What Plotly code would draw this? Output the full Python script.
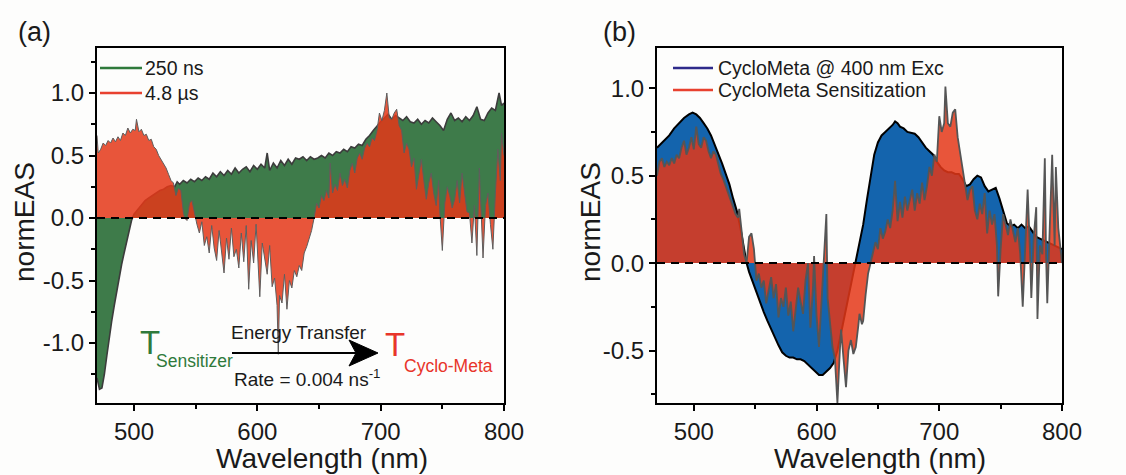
import plotly.graph_objects as go

# ---------------- data: panel (a) ----------------
wl_a_250ns = [470, 472, 474, 476, 478, 480, 482, 484, 486, 488, 490, 492, 494, 496, 498, 500, 503, 506, 509, 512,
              515, 518, 521, 524, 527, 530, 533, 535, 537, 540, 543, 546, 549, 552, 555, 558, 561, 564, 567, 570,
              573, 576, 579, 582, 585, 588, 591, 594, 597, 600, 603, 606, 608, 610, 613, 616, 619, 622, 625, 628,
              631, 634, 637, 640, 643, 646, 649, 652, 655, 658, 661, 664, 667, 670, 673, 676, 679, 682, 685, 688,
              691, 694, 697, 700, 703, 706, 709, 712, 715, 718, 721, 724, 727, 730, 733, 736, 739, 742, 745, 748,
              751, 754, 757, 760, 763, 766, 769, 772, 775, 778, 781, 784, 787, 790, 793, 796, 798, 800]
eas_a_250ns = [-1.28, -1.37, -1.36, -1.25, -1.10, -0.95, -0.82, -0.70, -0.58, -0.47, -0.37, -0.28, -0.19, -0.10, -0.02,
               0.03, 0.07, 0.11, 0.14, 0.16, 0.18, 0.20, 0.22, 0.23, 0.25, 0.26, 0.25, 0.29, 0.27, 0.30, 0.28, 0.31,
               0.29, 0.32, 0.30, 0.33, 0.31, 0.36, 0.33, 0.37, 0.34, 0.38, 0.35, 0.40, 0.36, 0.39, 0.41, 0.37, 0.42,
               0.39, 0.43, 0.40, 0.52, 0.38, 0.44, 0.40, 0.46, 0.42, 0.47, 0.43, 0.48, 0.47, 0.49, 0.46, 0.49, 0.47,
               0.48, 0.50, 0.48, 0.52, 0.50, 0.53, 0.52, 0.55, 0.53, 0.57, 0.56, 0.59, 0.58, 0.63, 0.66, 0.70, 0.74,
               0.77, 0.80, 0.83, 0.79, 0.82, 0.80, 0.78, 0.81, 0.77, 0.76, 0.79, 0.75, 0.78, 0.76, 0.80, 0.77, 0.74,
               0.70, 0.79, 0.84, 0.78, 0.80, 0.77, 0.81, 0.78, 0.82, 0.89, 0.79, 0.78, 0.84, 0.88, 0.86, 1.00, 0.90,
               0.92]

wl_a_48us = [470, 471, 473, 475, 477, 479, 481, 483, 485, 487, 489, 491, 493, 495, 497, 499, 501, 502, 504, 506,
             508, 510, 512, 514, 516, 518, 520, 522, 524, 526, 528, 530, 532, 534, 536, 538, 540, 541, 543, 545,
             547, 549, 551, 553, 555, 557, 559, 561, 563, 565, 567, 569, 571, 573, 575, 577, 579, 581, 583, 585,
             587, 589, 591, 593, 595, 597, 599, 601, 602, 604, 606, 608, 610, 612, 614, 616, 617, 618, 620, 622,
             624, 626, 628, 630, 632, 634, 636, 638, 640, 642, 644, 646, 648, 650, 652, 654, 656, 658, 659, 661,
             663, 665, 667, 669, 671, 673, 675, 677, 679, 681, 683, 685, 687, 689, 691, 693, 695, 697, 699, 701,
             703, 705, 707, 709, 711, 713, 715, 717, 719, 721, 723, 725, 727, 729, 731, 733, 735, 737, 739, 741,
             743, 745, 747, 748, 750, 752, 754, 756, 758, 760, 762, 764, 766, 768, 770, 772, 774, 776, 778, 780,
             782, 783, 785, 787, 789, 791, 793, 795, 797, 798, 800]
eas_a_48us = [0.66, 0.52, 0.55, 0.60, 0.58, 0.62, 0.60, 0.64, 0.61, 0.65, 0.62, 0.68, 0.66, 0.72, 0.68, 0.71, 0.70,
              0.79, 0.69, 0.71, 0.66, 0.67, 0.62, 0.63, 0.57, 0.55, 0.50, 0.47, 0.43, 0.40, 0.35, 0.30, 0.28, 0.18,
              0.24, 0.22, 0.05, 0.00, -0.02, 0.12, 0.14, 0.04, -0.05, -0.12, -0.03, -0.22, -0.15, -0.28, -0.06,
              -0.24, -0.34, -0.10, -0.30, -0.44, -0.16, -0.33, -0.08, -0.31, -0.25, -0.40, -0.12, -0.35, -0.06,
              -0.57, -0.18, -0.36, -0.05, -0.52, -0.63, -0.20, -0.31, -0.45, -0.22, -0.55, -0.48, -0.70, -1.09,
              -0.62, -0.68, -0.45, -0.73, -0.50, -0.56, -0.42, -0.47, -0.38, -0.42, -0.28, -0.23, -0.16, -0.10,
              0.00, 0.12, 0.08, 0.18, 0.14, 0.22, 0.16, 0.44, 0.20, 0.27, 0.22, 0.36, 0.26, 0.31, 0.24, 0.38, 0.44,
              0.36, 0.48, 0.52, 0.47, 0.56, 0.60, 0.57, 0.64, 0.62, 0.70, 0.84, 0.78, 0.86, 1.00, 0.80, 0.79, 0.84,
              0.87, 0.74, 0.70, 0.52, 0.60, 0.55, 0.41, 0.48, 0.23, 0.36, 0.47, 0.30, 0.15, 0.28, 0.36, 0.20, 0.10,
              0.30, 0.04, -0.26, 0.12, 0.25, 0.18, 0.08, 0.15, 0.30, 0.12, 0.36, 0.20, 0.05, 0.04, -0.20, 0.10,
              -0.30, 0.40, -0.05, -0.32, 0.10, 0.20, -0.05, -0.25, 0.20, 0.55, 0.30, 0.68, 0.50]

# ---------------- data: panel (b) ----------------
wl_b_exc = [470, 473, 476, 480, 484, 488, 492, 496, 499, 502, 505, 508, 511, 514, 517, 520, 523, 526, 529, 532,
            535, 538, 541, 543, 545, 548, 551, 554, 557, 560, 563, 566, 569, 572, 575, 578, 581, 584, 587, 590,
            593, 596, 599, 602, 605, 608, 611, 614, 617, 620, 623, 626, 629, 632, 635, 638, 641, 644, 647, 650,
            653, 656, 659, 662, 664, 666, 668, 671, 674, 677, 680, 683, 686, 689, 692, 695, 698, 701, 704, 707,
            710, 713, 716, 719, 722, 725, 728, 731, 734, 737, 740, 743, 746, 749, 752, 755, 758, 761, 764, 767,
            770, 773, 776, 779, 782, 785, 788, 791, 794, 797, 800]
eas_b_exc = [0.66, 0.68, 0.70, 0.73, 0.77, 0.80, 0.83, 0.85, 0.86, 0.85, 0.83, 0.80, 0.77, 0.73, 0.68, 0.63, 0.57,
             0.51, 0.45, 0.37, 0.30, 0.20, 0.07, 0.00, -0.05, -0.11, -0.17, -0.22, -0.28, -0.33, -0.38, -0.43,
             -0.47, -0.51, -0.53, -0.54, -0.54, -0.55, -0.55, -0.56, -0.58, -0.60, -0.62, -0.64, -0.64, -0.62,
             -0.60, -0.57, -0.50, -0.40, -0.30, -0.20, -0.10, 0.00, 0.10, 0.22, 0.36, 0.50, 0.62, 0.69, 0.73,
             0.75, 0.77, 0.79, 0.81, 0.80, 0.78, 0.77, 0.75, 0.745, 0.74, 0.72, 0.69, 0.66, 0.64, 0.62, 0.58,
             0.55, 0.53, 0.52, 0.52, 0.51, 0.51, 0.48, 0.44, 0.45, 0.48, 0.50, 0.49, 0.44, 0.41, 0.42, 0.43,
             0.37, 0.30, 0.23, 0.21, 0.22, 0.20, 0.22, 0.20, 0.21, 0.18, 0.15, 0.14, 0.13, 0.12, 0.11, 0.10,
             0.09, 0.08]

wl_b_sens = [470, 472, 474, 476, 478, 480, 482, 484, 486, 488, 490, 492, 494, 496, 498, 500, 502, 504, 506, 508,
             510, 512, 514, 516, 518, 520, 522, 524, 526, 528, 530, 532, 534, 536, 537, 539, 541, 543, 545, 547,
             549, 551, 553, 555, 557, 559, 561, 563, 565, 567, 569, 571, 573, 575, 577, 579, 581, 583, 585, 587,
             589, 591, 593, 595, 597, 598, 600, 602, 604, 606, 608, 609, 611, 613, 615, 617, 619, 620, 622, 624,
             626, 628, 630, 632, 634, 635, 637, 638, 640, 642, 644, 646, 648, 650, 652, 654, 656, 658, 660, 662,
             664, 666, 668, 670, 672, 674, 676, 678, 680, 682, 684, 686, 688, 690, 692, 694, 696, 698, 700, 702,
             704, 705, 707, 709, 711, 713, 715, 717, 719, 721, 723, 725, 727, 729, 731, 733, 735, 737, 739, 741,
             743, 745, 747, 748, 750, 752, 754, 756, 758, 760, 762, 764, 766, 768, 770, 772, 774, 775, 777, 779,
             780, 782, 784, 786, 787, 788, 790, 792, 794, 795, 797, 800]
eas_b_sens = [0.50, 0.58, 0.60, 0.55, 0.58, 0.56, 0.60, 0.57, 0.62, 0.60, 0.66, 0.70, 0.62, 0.66, 0.72, 0.65, 0.78,
              0.68, 0.66, 0.72, 0.70, 0.64, 0.60, 0.64, 0.62, 0.56, 0.51, 0.48, 0.44, 0.40, 0.36, 0.32, 0.28, 0.26,
              0.31, 0.18, 0.05, 0.00, 0.15, 0.17, 0.08, -0.10, -0.06, -0.14, -0.10, -0.23, -0.15, -0.08, -0.20,
              -0.12, -0.31, -0.20, -0.25, -0.14, -0.30, -0.22, -0.39, -0.25, -0.14, -0.22, -0.29, -0.10, 0.00,
              -0.37, -0.15, 0.04, -0.30, -0.48, -0.20, 0.07, 0.28, -0.20, -0.35, -0.48, -0.55, -0.80, -0.50, -0.38,
              -0.55, -0.71, -0.50, -0.44, -0.52, -0.48, -0.36, -0.29, -0.35, -0.33, -0.18, -0.06, 0.00, 0.06, 0.12,
              0.08, 0.20, 0.14, 0.18, 0.25, 0.20, 0.30, 0.47, 0.24, 0.35, 0.26, 0.38, 0.30, 0.36, 0.42, 0.30, 0.40,
              0.34, 0.46, 0.36, 0.44, 0.55, 0.50, 0.62, 0.58, 0.84, 0.75, 0.80, 1.01, 0.80, 0.78, 0.86, 0.88, 0.72,
              0.62, 0.55, 0.45, 0.36, 0.42, 0.44, 0.30, 0.25, 0.34, 0.28, 0.40, 0.17, 0.30, 0.22, 0.28, 0.10, -0.19,
              0.08, 0.28, 0.22, 0.16, 0.25, 0.19, 0.12, 0.20, 0.05, -0.25, 0.10, 0.42, 0.05, -0.20, 0.15, 0.32,
              -0.32, 0.10, 0.05, 0.60, 0.05, -0.23, 0.20, 0.62, 0.10, 0.55, 0.20, 0.00]

# ---------------- labels and ticks ----------------
legend_a = ["250 ns", "4.8 µs"]
legend_b = ["CycloMeta @ 400 nm Exc", "CycloMeta Sensitization"]
x_range = [470, 800]
x_tickvals = [500, 600, 700, 800]
x_ticktext = ["500", "600", "700", "800"]
x_minor = [550, 650, 750]
ya_range = [-1.48, 1.36]
ya_tickvals = [-1.0, -0.5, 0.0, 0.5, 1.0]
ya_ticktext = ["-1.0", "-0.5", "0.0", "0.5", "1.0"]
ya_minor = [-1.25, -0.75, -0.25, 0.25, 0.75, 1.25]
yb_range = [-0.80, 1.23]
yb_tickvals = [-0.5, 0.0, 0.5, 1.0]
yb_ticktext = ["-0.5", "0.0", "0.5", "1.0"]
yb_minor = [-0.75, -0.25, 0.25, 0.75]

W, H = 1126, 475
FONT = "Liberation Sans, Arial, sans-serif"
INK = "#1a1a1a"


def px(x):
    return x / W


def py(y):
    return 1 - y / H


GREEN = "#3e7b4a"
RED_FILL = "rgba(228,55,24,0.85)"
BLUE = "#1464ad"

fig = go.Figure()

# panel (a)
fig.add_trace(go.Scatter(x=wl_a_250ns, y=eas_a_250ns, mode="lines", fill="tozeroy", name=legend_a[0],
                         fillcolor=GREEN, line=dict(color="#3c3c3c", width=1.6),
                         showlegend=False, xaxis="x", yaxis="y"))
fig.add_trace(go.Scatter(x=wl_a_48us, y=eas_a_48us, mode="lines", fill="tozeroy", name=legend_a[1],
                         fillcolor=RED_FILL, line=dict(color="#5e5e5e", width=1),
                         showlegend=False, xaxis="x", yaxis="y"))
# panel (b)
fig.add_trace(go.Scatter(x=wl_b_exc, y=eas_b_exc, mode="lines", fill="tozeroy", name=legend_b[0],
                         fillcolor=BLUE, line=dict(color="black", width=2),
                         showlegend=False, xaxis="x2", yaxis="y2"))
fig.add_trace(go.Scatter(x=wl_b_sens, y=eas_b_sens, mode="lines", fill="tozeroy", name=legend_b[1],
                         fillcolor=RED_FILL, line=dict(color="#555555", width=1.8),
                         showlegend=False, xaxis="x2", yaxis="y2"))

axis_common = dict(showline=True, linecolor="black", linewidth=2, mirror=True, ticks="outside",
                   ticklen=6, tickwidth=2, tickcolor="black", showgrid=False, zeroline=False,
                   automargin=False, tickfont=dict(family=FONT, size=24, color=INK))
minor_common = dict(tickmode="array", ticks="outside", ticklen=4, tickwidth=2, tickcolor="black")

fig.update_layout(
    width=W, height=H, autosize=False, margin=dict(l=0, r=0, t=0, b=0, autoexpand=False),
    paper_bgcolor="#fdfdfc", plot_bgcolor="#fdfdfc",
    font=dict(family=FONT, color=INK), showlegend=False,
    xaxis=dict(domain=[px(97), px(504)], range=x_range, tickmode="array", tickvals=x_tickvals,
               ticktext=x_ticktext, anchor="y", minor=dict(tickvals=x_minor, **minor_common), **axis_common),
    yaxis=dict(domain=[py(403), py(48)], range=ya_range, tickmode="array", tickvals=ya_tickvals,
               ticktext=ya_ticktext, anchor="x", minor=dict(tickvals=ya_minor, **minor_common), **axis_common),
    xaxis2=dict(domain=[px(657), px(1062)], range=x_range, tickmode="array", tickvals=x_tickvals,
                ticktext=x_ticktext, anchor="y2", minor=dict(tickvals=x_minor, **minor_common), **axis_common),
    yaxis2=dict(domain=[py(403), py(48)], range=yb_range, tickmode="array", tickvals=yb_tickvals,
                ticktext=yb_ticktext, anchor="x2", minor=dict(tickvals=yb_minor, **minor_common), **axis_common),
)

# dashed zero lines
for xr, yr in (("x domain", "y"), ("x2 domain", "y2")):
    fig.add_shape(type="line", xref=xr, yref=yr, x0=0, x1=1, y0=0, y1=0,
                  line=dict(color="black", width=2, dash="8px,6px"), layer="above")

# legend keys (lines) drawn as shapes
legend_keys = [((100, 142, 68), "#2f7a3b"), ((100, 142, 93), "#e8412f"),
               ((673, 713, 68), "#2e2a8a"), ((673, 713, 90), "#e8412f")]
for (x0, x1, yy), col in legend_keys:
    fig.add_shape(type="line", xref="paper", yref="paper", x0=px(x0), x1=px(x1), y0=py(yy), y1=py(yy),
                  line=dict(color=col, width=2.5))

# energy transfer arrow
fig.add_shape(type="line", xref="paper", yref="paper", x0=px(232), x1=px(356), y0=py(353), y1=py(353),
              line=dict(color="black", width=2))
fig.add_shape(type="path", xref="paper", yref="paper",
              path=f"M {px(349)},{py(340)} L {px(378)},{py(353)} L {px(349)},{py(366)} L {px(356)},{py(353)} Z",
              fillcolor="black", line=dict(color="black", width=1))

ann = []


def txt(text, x, y, size, color=INK, xanchor="center", textangle=0):
    ann.append(dict(text=text, x=px(x), y=py(y), xref="paper", yref="paper", showarrow=False,
                    xanchor=xanchor, yanchor="middle", textangle=textangle,
                    font=dict(family=FONT, size=size, color=color)))


txt(legend_a[0], 143, 68, 19.5, xanchor="left")
txt(legend_a[1], 143, 93, 19.5, xanchor="left")
txt(legend_b[0], 716, 68, 19.5, xanchor="left")
txt(legend_b[1], 716, 90, 19.5, xanchor="left")
txt("(a)", 34, 32, 27)
txt("(b)", 619, 32, 27)
txt("Wavelength (nm)", 322, 458, 28)
txt("Wavelength (nm)", 880, 458, 28)
txt("normEAS", 24, 222, 28, textangle=-90)
txt("normEAS", 590, 222, 28, textangle=-90)
txt("T", 150, 342, 33, color="#2f7a3b")
txt("Sensitizer", 154, 361, 17.5, color="#2f7a3b", xanchor="left")
txt("Energy Transfer", 299, 332, 19)
txt("Rate = 0.004 ns<sup>-1</sup>", 307, 378, 19)
txt("T", 395, 344, 33, color="#e8352a")
txt("Cyclo-Meta", 402, 366, 17.5, color="#e8352a", xanchor="left")
fig.update_layout(annotations=ann)

fig.write_html("out.html",
               config={"responsive": False, "displayModeBar": False},
               post_script="document.body.style.margin='0';document.body.style.overflow='hidden';")
